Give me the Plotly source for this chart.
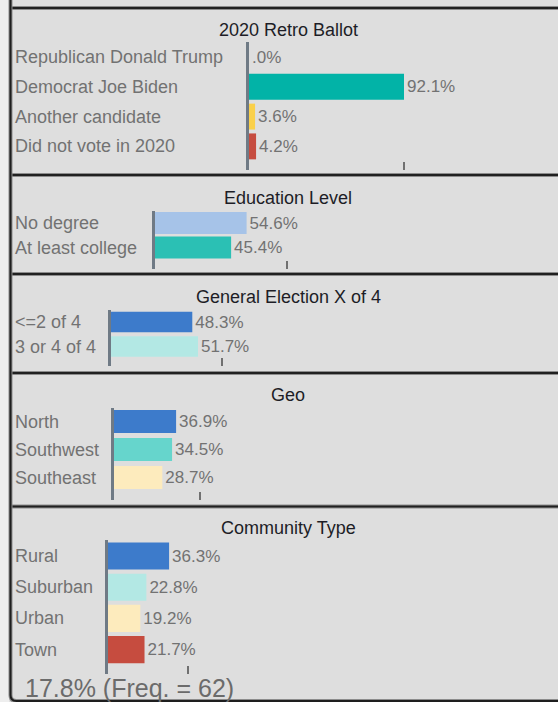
import plotly.graph_objects as go

# ---- data -------------------------------------------------------------
ballot_titles = ["2020 Retro Ballot", "Education Level", "General Election X of 4", "Geo", "Community Type"]

retro_cats = ["Republican Donald Trump", "Democrat Joe Biden", "Another candidate", "Did not vote in 2020"]
retro_vals = [0.0, 92.1, 3.6, 4.2]

edu_cats = ["No degree", "At least college"]
edu_vals = [54.6, 45.4]

gen_cats = ["<=2 of 4", "3 or 4 of 4"]
gen_vals = [48.3, 51.7]

geo_cats = ["North", "Southwest", "Southeast"]
geo_vals = [36.9, 34.5, 28.7]

comm_cats = ["Rural", "Suburban", "Urban", "Town"]
comm_vals = [36.3, 22.8, 19.2, 21.7]

# position of the single reference tick on each panel's scale (percent)
tick_marks = [92.1, 78.4, 65.8, 50.9, 47.4]

footer_pct = 17.8
footer_freq = 62

# ---- styling ----------------------------------------------------------
W, H = 558, 702
PX_PER_PCT = 1.683          # horizontal scale shared by all panels

BLUE = "#3d7bcb"
TEAL = "#02b3a7"
TEAL2 = "#2bc0b4"
AQUA = "#66d5cc"
PALE_CYAN = "#b3e8e4"
PALE_BLUE = "#a6c3e8"
PALE_YELLOW = "#fdebbd"
YELLOW = "#fad04a"
RED = "#c64c3f"

panel_colors = [
    [RED, TEAL, YELLOW, RED],
    [PALE_BLUE, TEAL2],
    [BLUE, PALE_CYAN],
    [BLUE, AQUA, PALE_YELLOW],
    [BLUE, PALE_CYAN, PALE_YELLOW, RED],
]

# panel layout in pixels: axis x, top of first row band, bottom of axis,
# row pitch, bar thickness (fraction of pitch), title y, top border y
panel_geom = [
    dict(ax=249.0, top=42.1, bottom=170.0, pitch=29.8, bw=0.87, title=30, border=8),
    dict(ax=154.7, top=210.8, bottom=269.0, pitch=24.5, bw=0.90, title=198, border=175),
    dict(ax=111.0, top=309.8, bottom=366.0, pitch=24.5, bw=0.84, title=297, border=274),
    dict(ax=114.0, top=407.5, bottom=500.0, pitch=28.0, bw=0.82, title=395, border=373),
    dict(ax=108.0, top=540.4, bottom=674.0, pitch=31.2, bw=0.87, title=528, border=506.5),
]

LABEL_GRAY = "#727272"
TITLE_COLOR = "#1d1d26"
AXIS_COLOR = "#6f7a85"
FONT = "Liberation Sans, Arial, sans-serif"

panels = [
    (retro_cats, retro_vals),
    (edu_cats, edu_vals),
    (gen_cats, gen_vals),
    (geo_cats, geo_vals),
    (comm_cats, comm_vals),
]


def px_x(px):
    return px / W


def px_y(py):
    return 1 - py / H


def pct_label(v):
    s = f"{v:.1f}%"
    return s[1:] if s.startswith("0.") else s


fig = go.Figure()
annotations = []
shapes = []
layout_axes = {}

# left frame strip
shapes.append(dict(type="rect", xref="paper", yref="paper", x0=0, x1=px_x(9), y0=0, y1=1,
                   fillcolor="#eeeeee", line=dict(width=0), layer="below"))

for i, ((cats, vals), g, colors, title, tick) in enumerate(
        zip(panels, panel_geom, panel_colors, ballot_titles, tick_marks)):
    n = i + 1
    xa = f"x{n}" if n > 1 else "x"
    ya = f"y{n}" if n > 1 else "y"
    xkey = f"xaxis{n}" if n > 1 else "xaxis"
    ykey = f"yaxis{n}" if n > 1 else "yaxis"

    fig.add_trace(go.Bar(
        orientation="h", x=vals, y=cats, xaxis=xa, yaxis=ya,
        marker=dict(color=colors, line=dict(width=0)),
        width=g["bw"],
        text=[pct_label(v) for v in vals], textposition="outside",
        textfont=dict(family=FONT, size=17, color=LABEL_GRAY),
        cliponaxis=False, constraintext="none", hoverinfo="skip",
        showlegend=False,
    ))

    span = (g["bottom"] - g["top"]) / g["pitch"]
    layout_axes[xkey] = dict(
        domain=[px_x(g["ax"]), 1], range=[0, (W - g["ax"]) / PX_PER_PCT],
        anchor=ya, showgrid=False, zeroline=False, showline=False,
        ticks="inside", ticklen=8, tickwidth=2, tickcolor="#707070",
        tickvals=[tick], showticklabels=False, fixedrange=True,
    )
    layout_axes[ykey] = dict(
        domain=[px_y(g["bottom"]), px_y(g["top"])], range=[-0.5 + span, -0.5],
        type="category", anchor=xa, showgrid=False, zeroline=False,
        showline=True, linecolor=AXIS_COLOR, linewidth=2.5,
        ticks="", showticklabels=False, fixedrange=True,
    )

    # category names, left aligned in the panel
    for j, c in enumerate(cats):
        annotations.append(dict(
            text=c, xref="paper", yref=ya, x=px_x(13), y=j, xanchor="left", yanchor="middle",
            showarrow=False, font=dict(family=FONT, size=18, color=LABEL_GRAY),
        ))

    annotations.append(dict(
        text=title, xref="paper", yref="paper", x=px_x(288), y=px_y(g["title"]),
        xanchor="center", yanchor="middle", showarrow=False,
        font=dict(family=FONT, size=18, color=TITLE_COLOR),
    ))

    # panel separator
    for w, col in ((4, "#8c8c8c"), (2, "#202020")):
        shapes.append(dict(type="line", xref="paper", yref="paper",
                           x0=px_x(10), x1=1, y0=px_y(g["border"]), y1=px_y(g["border"]),
                           line=dict(color=col, width=w)))

# outer frame: left edge with rounded bottom corner
corner = (f"M {px_x(10.5)},1 L {px_x(10.5)},{px_y(695)} "
          f"Q {px_x(10.5)},{px_y(701)} {px_x(16.5)},{px_y(701)} L 1,{px_y(701)}")
shapes.append(dict(type="path", xref="paper", yref="paper", path=corner,
                   line=dict(color="#8c8c8c", width=4)))
shapes.append(dict(type="path", xref="paper", yref="paper", path=corner,
                   line=dict(color="#1e1e1e", width=2)))

annotations.append(dict(
    text=f"{footer_pct:.1f}% (Freq. = {footer_freq})", xref="paper", yref="paper",
    x=px_x(23), y=px_y(688), xanchor="left", yanchor="middle", showarrow=False,
    font=dict(family=FONT, size=25, color="#6b6b6b"),
))

fig.update_layout(
    width=W, height=H, margin=dict(l=0, r=0, t=0, b=0, pad=0),
    paper_bgcolor="#dedede", plot_bgcolor="rgba(0,0,0,0)",
    bargap=0.13, showlegend=False,
    annotations=annotations, shapes=shapes,
    **layout_axes,
)

fig.write_html("out.html", config=dict(displayModeBar=False))
